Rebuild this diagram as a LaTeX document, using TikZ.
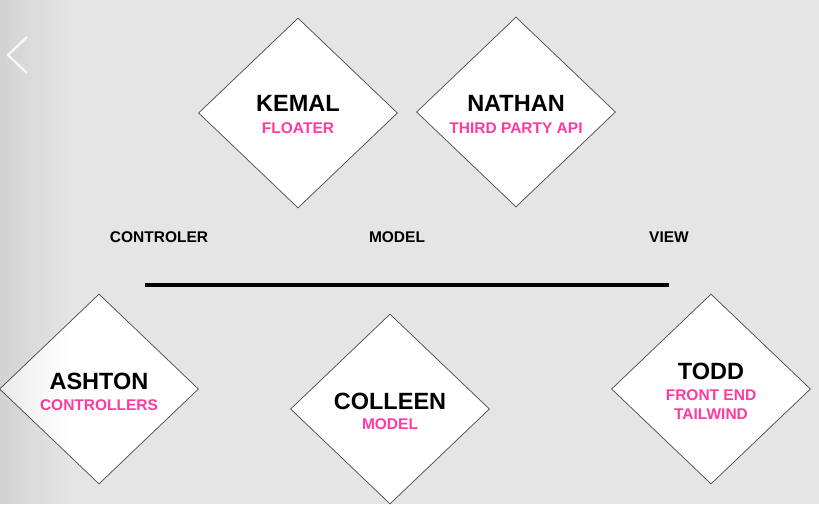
\documentclass[tikz,border=0pt]{standalone}
\usepackage{fontspec}
\setmainfont{Liberation Sans}
\usetikzlibrary{shapes.geometric,fadings}

\definecolor{slidegray}{HTML}{E5E5E5}
\definecolor{rolepink}{RGB}{255,58,160}
\definecolor{edgegray}{HTML}{474747}
\tikzfading[name=edgefade, left color=transparent!0, right color=transparent!100]

\tikzset{
  role/.style={diamond,draw=edgegray,line width=0.7pt,fill=white,minimum width=199pt,minimum height=190pt,inner sep=0pt},
  who/.style={anchor=base,font=\fontsize{23.5}{26}\selectfont\bfseries},
  task/.style={anchor=base,text=rolepink,font=\fontsize{15.5}{19}\selectfont\bfseries},
  layer/.style={anchor=base,font=\fontsize{15.5}{18}\selectfont\bfseries}
}

\begin{document}
\begin{tikzpicture}[x=1pt,y=-1pt]
    \fill[slidegray] (0,0) rectangle (819,504);
    \useasboundingbox (0,0) rectangle (819,504);

    % top row
    \node[role] (kemal) at (298,113) {};
    \node[who] (kemalname) at (298,111) {KEMAL};
    \node[task] (kemaljob) at (298,133.5) {FLOATER};

    \node[role] (nathan) at (516,112) {};
    \node[who] (nathanname) at (516,111) {NATHAN};
    \node[task] (nathanjob) at (516,133.5) {THIRD PARTY API};

    % layers
    \node[layer] (controler) at (159,242.5) {CONTROLER};
    \node[layer] (model) at (397,242.5) {MODEL};
    \node[layer] (view) at (669,242.5) {VIEW};
    \coordinate (ruleleft) at (145,285);
    \coordinate (ruleright) at (669,285);
    \draw[line width=4pt] (ruleleft) -- (ruleright);

    % bottom row
    \node[role] (ashton) at (99,389) {};
    \node[who] (ashtonname) at (99,389) {ASHTON};
    \node[task] (ashtonjob) at (99,410.5) {CONTROLLERS};

    \node[role] (colleen) at (390,409) {};
    \node[who] (colleenname) at (390,409) {COLLEEN};
    \node[task] (colleenjob) at (390,429.5) {MODEL};

    \node[role] (todd) at (711,389) {};
    \node[who] (toddname) at (711,379) {TODD};
    \node[task] (toddjob) at (711,400.5) {FRONT END};
    \node[task] (toddtool) at (711,419.5) {TAILWIND};

    % left edge of the slide
    \fill[black,fill opacity=0.08,path fading=edgefade] (0,0) rectangle (70,504);
    \draw[white,opacity=0.85,line width=2.2pt] (27,37) -- (8,55) -- (27,73);
\end{tikzpicture}
\end{document}
